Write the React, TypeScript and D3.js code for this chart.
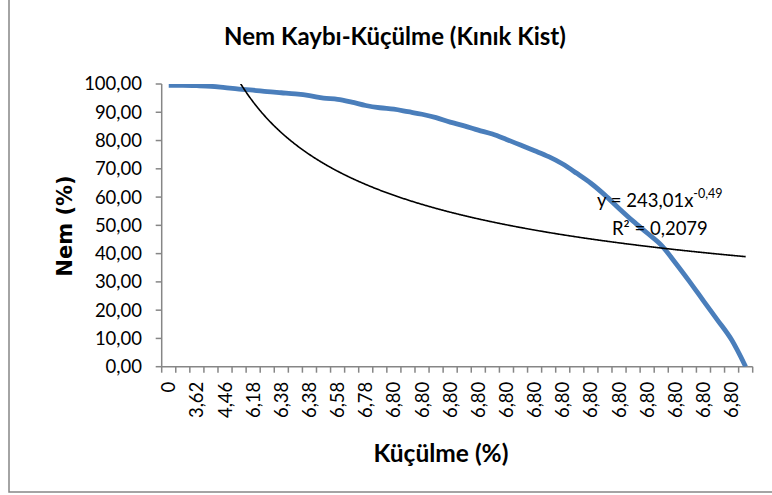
import React from "react";
import * as d3 from "d3";

// Moisture (%) at each measurement step of the cyst drying run
const moisture: number[] = [
  99.5, 99.5, 99.4, 99.2, 98.7, 98.2, 97.8, 97.3, 96.9, 96.5,
  95.9, 95.0, 94.6, 93.6, 92.4, 91.6, 91.1, 90.2, 89.3, 88.1,
  86.5, 85.2, 83.7, 82.3, 80.4, 78.4, 76.4, 74.3, 71.7, 68.4,
  64.9, 60.7, 56.0, 51.5, 47.3, 43.0, 36.8, 30.2, 23.3, 16.5,
  9.5, 0.0,
];

// Shrinkage (%) labels shown on every second category
const shrinkageLabels: string[] = [
  "0", "3,62", "4,46", "6,18", "6,38", "6,38", "6,58", "6,78", "6,80", "6,80",
  "6,80", "6,80", "6,80", "6,80", "6,80", "6,80", "6,80", "6,80", "6,80", "6,80",
  "6,80",
];

const yTicks: number[] = [0, 10, 20, 30, 40, 50, 60, 70, 80, 90, 100];

// Power trendline fitted on category index: y = a * x^b
const trendA = 243.01;
const trendB = -0.49;

const W = 772;
const H = 495;
const plot = { left: 161.7, right: 752.7, top: 84, bottom: 366.7 };
const FONT = "Lato, 'Open Sans', sans-serif";
const AXIS = "#868686";

export default function App() {
  const categories = moisture.map((_, i) => i);
  const x = d3
    .scaleBand<number>()
    .domain(categories)
    .range([plot.left, plot.right])
    .paddingInner(0)
    .paddingOuter(0);
  const bw = x.bandwidth();
  const cx = (i: number) => (x(i) as number) + bw / 2;
  const y = d3.scaleLinear().domain([0, 100]).range([plot.bottom, plot.top]);

  const line = d3
    .line<number>()
    .x((_, i) => cx(i))
    .y((d) => y(d))
    .curve(d3.curveMonotoneX);

  // trendline: category position k (1-based) mapped to pixel space
  const kPos = d3
    .scaleLinear()
    .domain([0.5, moisture.length + 0.5])
    .range([plot.left, plot.right]);
  const trendPts: [number, number][] = d3
    .range(1, moisture.length + 0.0001, 0.05)
    .map((k) => [kPos(k), y(trendA * Math.pow(k, trendB))]);
  const trendPath = d3.line()(trendPts) as string;

  const bounds = d3.range(0, moisture.length + 1).map((i) =>
    i < moisture.length ? (x(i) as number) : plot.right
  );

  return (
    <svg
      width={W}
      height={H}
      style={{ position: "absolute", left: 0, top: 0, background: "#fff" }}
      fontFamily={FONT}
    >
      <defs>
        <clipPath id="plotClip">
          <rect
            x={plot.left}
            y={plot.top}
            width={plot.right - plot.left}
            height={plot.bottom - plot.top}
          />
        </clipPath>
      </defs>
      <rect x={0} y={0} width={W} height={H} fill="#fff" />
      {/* chart frame */}
      <rect
        x={9}
        y={-10}
        width={800}
        height={502}
        fill="none"
        stroke={AXIS}
        strokeWidth={1.5}
      />

      <text
        x={395}
        y={45}
        textAnchor="middle"
        fontWeight="bold"
        fontSize={24}
        fill="#000"
      >
        Nem Kaybı-Küçülme (Kınık Kist)
      </text>

      {/* y axis */}
      <line
        x1={plot.left}
        x2={plot.left}
        y1={plot.top}
        y2={plot.bottom}
        stroke={AXIS}
        strokeWidth={1.5}
      />
      {yTicks.map((t) => (
        <g key={t}>
          <line
            x1={plot.left - 6}
            x2={plot.left}
            y1={y(t)}
            y2={y(t)}
            stroke={AXIS}
            strokeWidth={1.5}
          />
          <text
            x={142}
            y={y(t)}
            dy="0.35em"
            textAnchor="end"
            fontSize={18.5}
            fill="#000"
          >
            {t.toFixed(2).replace(".", ",")}
          </text>
        </g>
      ))}

      {/* x axis */}
      <line
        x1={plot.left}
        x2={plot.right}
        y1={plot.bottom}
        y2={plot.bottom}
        stroke={AXIS}
        strokeWidth={1.5}
      />
      {bounds.map((bx, i) => (
        <line
          key={i}
          x1={bx}
          x2={bx}
          y1={plot.bottom}
          y2={plot.bottom + 6}
          stroke={AXIS}
          strokeWidth={1.5}
        />
      ))}
      {categories
        .filter((i) => i % 2 === 0)
        .map((i) => (
          <text
            key={i}
            transform={`translate(${cx(i)},${plot.bottom + 15}) rotate(-90)`}
            dy="0.35em"
            textAnchor="end"
            fontSize={18.5}
            fill="#000"
          >
            {shrinkageLabels[i / 2]}
          </text>
        ))}

      <text
        x={441}
        y={462}
        textAnchor="middle"
        fontWeight="bold"
        fontSize={24.5}
        fill="#000"
      >
        Küçülme (%)
      </text>
      <text
        transform="translate(72,226) rotate(-90)"
        textAnchor="middle"
        fontWeight="bold"
        fontSize={21}
        fontFamily="'DejaVu Sans', sans-serif"
        fill="#000"
      >
        Nem (%)
      </text>

      {/* series */}
      <g clipPath="url(#plotClip)">
        <path
          d={line(moisture) as string}
          fill="none"
          stroke="#4A7EBB"
          strokeWidth={4.8}
          strokeLinejoin="round"
        />
        <path d={trendPath} fill="none" stroke="#000" strokeWidth={1.6} />
      </g>

      {/* trendline equation */}
      <text x={597} y={207} fontSize={18.5} fill="#000">
        y = 243,01x
        <tspan dy={-9} fontSize={12.5}>
          -0,49
        </tspan>
      </text>
      <text x={612} y={235} fontSize={18.5} fill="#000">
        R² = 0,2079
      </text>
    </svg>
  );
}
